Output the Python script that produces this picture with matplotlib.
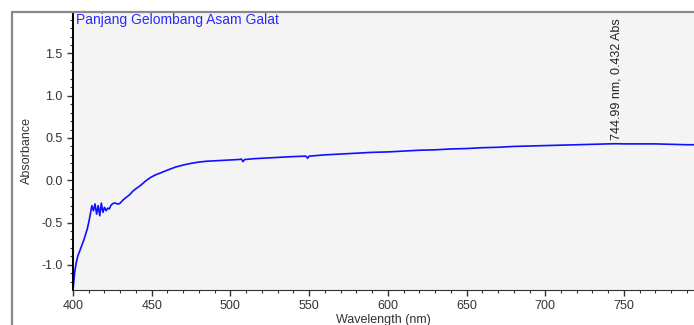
import matplotlib.pyplot as plt
from matplotlib.patches import Rectangle
from matplotlib.ticker import MultipleLocator

plt.rcParams['font.family'] = ['Liberation Sans', 'DejaVu Sans']
plt.rcParams['axes.unicode_minus'] = False

# spectrum
wavelength = [400, 401, 402, 403, 405, 407, 409, 410, 411, 412, 413, 414, 415,
              416, 417, 418, 419, 420, 421, 422, 423, 424, 425, 426, 427, 428,
              429, 430, 431, 432, 434, 436, 438, 440, 443, 446, 449, 452, 456,
              460, 465, 470, 475, 480, 485, 490, 495, 500, 505, 507, 508, 509,
              515, 520, 530, 540, 548, 549, 550, 560, 570, 580, 590, 600, 610,
              620, 630, 640, 650, 660, 670, 680, 690, 700, 710, 720, 730, 740,
              745, 750, 760, 770, 780, 790, 796]
absorbance = [-1.30, -1.10, -0.98, -0.90, -0.80, -0.70, -0.58, -0.50, -0.40,
              -0.30, -0.36, -0.28, -0.40, -0.30, -0.42, -0.27, -0.38, -0.32,
              -0.36, -0.33, -0.34, -0.30, -0.28, -0.27, -0.27, -0.28, -0.28,
              -0.27, -0.25, -0.23, -0.20, -0.17, -0.13, -0.10, -0.06, -0.01,
              0.03, 0.06, 0.09, 0.12, 0.155, 0.18, 0.20, 0.215, 0.225, 0.23,
              0.235, 0.24, 0.245, 0.25, 0.22, 0.245, 0.255, 0.26, 0.27, 0.28,
              0.285, 0.26, 0.285, 0.30, 0.31, 0.32, 0.33, 0.335, 0.345, 0.355,
              0.36, 0.37, 0.375, 0.385, 0.39, 0.40, 0.405, 0.41, 0.415, 0.42,
              0.425, 0.43, 0.432, 0.43, 0.43, 0.43, 0.425, 0.42, 0.42]

peak_nm = 744.99
peak_abs = 0.432

fig = plt.figure(figsize=(6.94, 3.25), dpi=100)
ax = fig.add_axes([73/694, 1 - 290/325, 1 - 73/694, 278/325])
ax.set_facecolor('#f4f4f4')

# grey outer frame
fig.patches.append(Rectangle((12/694, -0.1), 1.2, 1.1 - 12/325, transform=fig.transFigure,
                             fill=False, edgecolor='#8a8a8a', lw=1.6))

ax.plot(wavelength, absorbance, color='#1010ff', lw=1.2)
ax.set_xlim(400, 794.5)
ax.set_ylim(-1.298, 1.99)

ax.xaxis.set_major_locator(MultipleLocator(50))
ax.xaxis.set_minor_locator(MultipleLocator(10))
ax.yaxis.set_major_locator(MultipleLocator(0.5))
ax.yaxis.set_minor_locator(MultipleLocator(0.1))
ax.tick_params(which='major', length=4, width=1, colors='#333333', labelsize=9, labelcolor='#333333')
ax.tick_params(which='minor', length=2.5, width=0.8, colors='#333333')

for s in ['top', 'right']:
    ax.spines[s].set_visible(False)
ax.spines['left'].set_color('black')
ax.spines['left'].set_linewidth(1.4)
ax.spines['bottom'].set_color('#333333')

ax.set_xlabel('Wavelength (nm)', fontsize=9, color='#333333', labelpad=1)
ax.set_ylabel('Absorbance', fontsize=9, color='#333333', labelpad=6)

ax.text(0.005, 0.995, 'Panjang Gelombang Asam Galat', transform=ax.transAxes,
        ha='left', va='top', color='#2a2aff', fontsize=10)
ax.annotate(f'{peak_nm:.2f} nm, {peak_abs:.3f} Abs', xy=(peak_nm, peak_abs),
            xytext=(0, 3), textcoords='offset points', rotation=90,
            ha='center', va='bottom', fontsize=9, color='#222222')

fig.savefig('out.png', dpi=100)
